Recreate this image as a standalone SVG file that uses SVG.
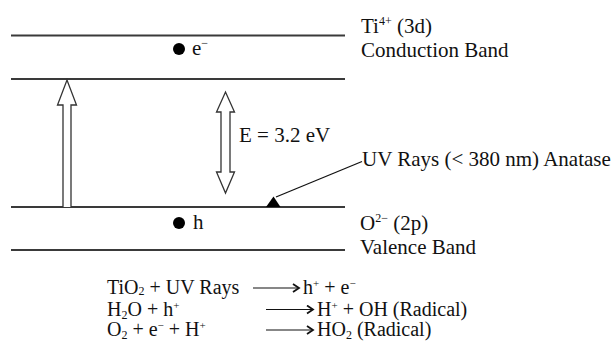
<svg xmlns="http://www.w3.org/2000/svg" width="615" height="343" viewBox="0 0 615 343">
<defs>
<marker id="chev" markerWidth="10" markerHeight="10" refX="8" refY="5" orient="auto" markerUnits="userSpaceOnUse">
<path d="M2,1 L8,5 L2,9" fill="none" stroke="#111" stroke-width="1.8"/>
</marker>
</defs>
<style>
text{font-family:"Liberation Serif","Times New Roman",serif;font-size:21px;fill:#111}
.band{stroke:#3a3a3a;stroke-width:1.8}
.hollow{fill:#fff;stroke:#333;stroke-width:1.3}
.eq{font-size:20px}
.sup{font-size:12px}
.sub{font-size:13px}
.esup{font-size:11px}
.esub{font-size:12px}
.rx{stroke:#111;stroke-width:1.2;fill:none}
</style>
<rect width="615" height="343" fill="#fff"/>
<g id="conduction-band">
<line class="band" x1="11" y1="35.5" x2="345" y2="35.5"/>
<line class="band" x1="11" y1="79" x2="345" y2="79"/>
<text x="361" y="33">Ti<tspan class="sup" dy="-8">4+</tspan><tspan dy="8"> (3d)</tspan></text>
<text x="361" y="57">Conduction Band</text>
</g>
<g id="electron">
<circle cx="179" cy="49" r="6" fill="#000"/>
<text x="192" y="55">e<tspan class="sup" dy="-8">−</tspan></text>
</g>
<g id="valence-band">
<line class="band" x1="11" y1="207" x2="345" y2="207"/>
<line class="band" x1="11" y1="250" x2="345" y2="250"/>
<text x="360" y="230">O<tspan class="sup" dy="-8">2−</tspan><tspan dy="8"> (2p)</tspan></text>
<text x="360" y="253.5">Valence Band</text>
</g>
<g id="hole">
<circle cx="179" cy="223" r="6" fill="#000"/>
<text x="193" y="229">h</text>
</g>
<g id="excitation-arrow">
<path class="hollow" d="M63,207 L63,105 L57.5,105 L67,80 L76.5,105 L71,105 L71,207"/>
</g>
<g id="gap-arrow">
<path class="hollow" d="M221,112 L216.5,112 L225.5,92 L234.5,112 L230,112 L230,172 L234.5,172 L225.5,193 L216.5,172 L221,172 Z"/>
<text x="239" y="142">E = 3.2 eV</text>
</g>
<g id="uv-rays">
<text x="362" y="166">UV Rays (&lt; 380 nm) Anatase</text>
</g>
<g id="connectors">
<line x1="362" y1="161.5" x2="276" y2="197" stroke="#111" stroke-width="1.3"/>
<polygon points="266,207 280.5,207 273.5,196.5" fill="#000"/>
</g>
<g id="reactions">
<text class="eq" x="107" y="293.5">TiO<tspan class="esub" dy="1.5">2</tspan><tspan dy="-1.5"> + UV Rays</tspan></text>
<line class="rx" x1="253" y1="288" x2="299" y2="288" marker-end="url(#chev)"/>
<text class="eq" x="303" y="293.5">h<tspan class="esup" dy="-7">+</tspan><tspan dy="7"> + e</tspan><tspan class="esup" dy="-7">−</tspan></text>
<text class="eq" x="107" y="315.5">H<tspan class="esub" dy="3">2</tspan><tspan dy="-3">O + h</tspan><tspan class="esup" dy="-7">+</tspan></text>
<line class="rx" x1="266" y1="309.5" x2="313" y2="309.5" marker-end="url(#chev)"/>
<text class="eq" x="317" y="315.5">H<tspan class="esup" dy="-7">+</tspan><tspan dy="7"> + OH (Radical)</tspan></text>
<text class="eq" x="107" y="336">O<tspan class="esub" dy="3">2</tspan><tspan dy="-3"> + e</tspan><tspan class="esup" dy="-7">−</tspan><tspan dy="7"> + H</tspan><tspan class="esup" dy="-7">+</tspan></text>
<line class="rx" x1="266" y1="330" x2="313" y2="330" marker-end="url(#chev)"/>
<text class="eq" x="317" y="336">HO<tspan class="esub" dy="3">2</tspan><tspan dy="-3"> (Radical)</tspan></text>
</g>
</svg>
